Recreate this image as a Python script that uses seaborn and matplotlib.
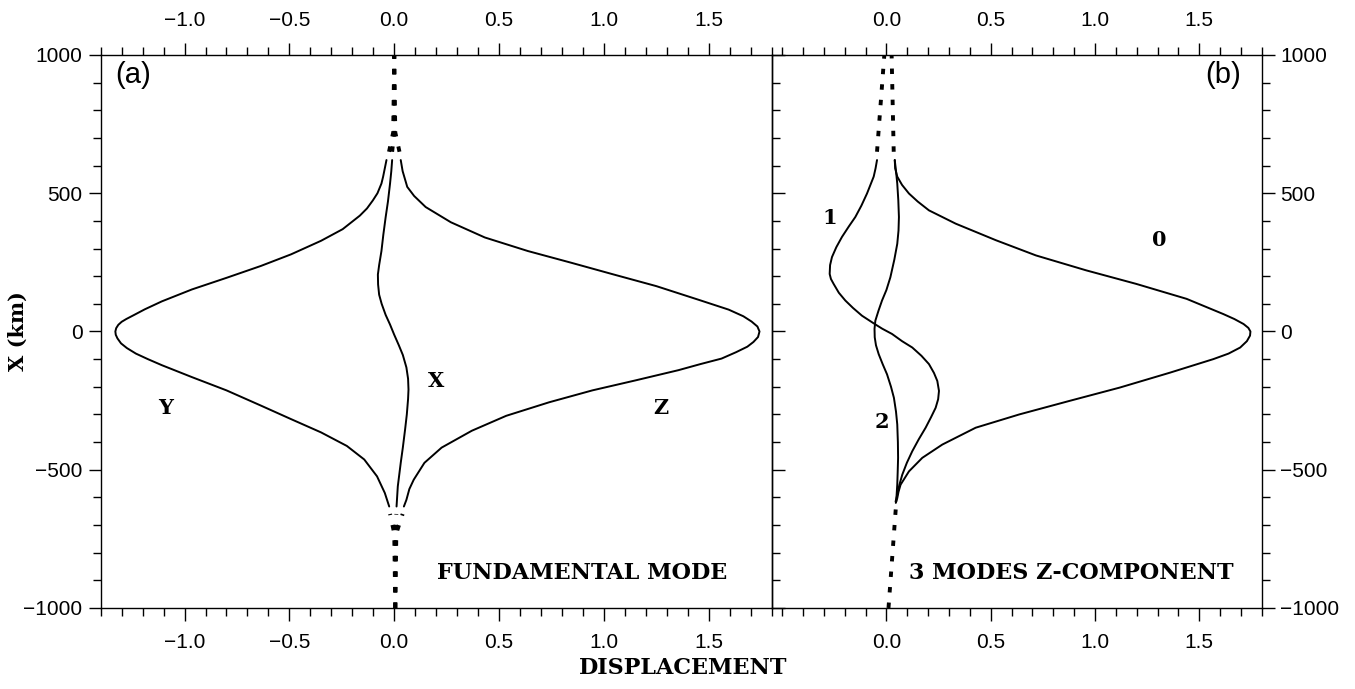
import matplotlib
matplotlib.use("Agg")
import matplotlib.pyplot as plt
import seaborn as sns
from matplotlib.ticker import MultipleLocator, FixedLocator, FuncFormatter

# --- panel (a): fundamental mode, three components ---
y_km = [620, 590, 560, 535, 500, 474, 445, 419, 370, 328, 279, 237, 194, 152, 109,
        80, 60, 45, 35, 24, 12, 0, -12, -25, -43, -60, -80, -100, -122, -165, -213,
        -268, -317, -365, -414, -463, -524, -584, -633]
y_disp = [-0.037, -0.045, -0.053, -0.061, -0.080, -0.102, -0.130, -0.164, -0.246,
          -0.349, -0.492, -0.636, -0.800, -0.965, -1.108, -1.190, -1.240, -1.278,
          -1.300, -1.316, -1.326, -1.330, -1.328, -1.320, -1.303, -1.275, -1.232,
          -1.175, -1.108, -0.965, -0.800, -0.636, -0.492, -0.349, -0.226, -0.143,
          -0.082, -0.045, -0.024]

z_km = [620, 580, 523, 490, 450, 395, 340, 291, 249, 206, 164, 115, 79, 55, 36,
        18, 0, -20, -38, -55, -75, -98, -118, -140, -177, -213, -256, -305, -359,
        -420, -475, -536, -570, -609, -633]
z_disp = [0.031, 0.040, 0.062, 0.095, 0.150, 0.270, 0.432, 0.637, 0.842, 1.047,
          1.250, 1.450, 1.595, 1.665, 1.704, 1.732, 1.742, 1.735, 1.713, 1.684,
          1.630, 1.561, 1.460, 1.355, 1.150, 0.945, 0.739, 0.534, 0.370, 0.226,
          0.144, 0.093, 0.072, 0.058, 0.046]

x_km = [620, 580, 535, 470, 413, 350, 291, 240, 206, 170, 133, 100, 60, 25, -12,
        -50, -85, -130, -171, -210, -244, -300, -353, -420, -475, -560, -633]
x_disp = [-0.010, -0.014, -0.020, -0.030, -0.041, -0.052, -0.061, -0.072, -0.078,
          -0.077, -0.072, -0.060, -0.041, -0.020, 0.000, 0.022, 0.041, 0.058, 0.066,
          0.068, 0.066, 0.060, 0.052, 0.041, 0.031, 0.017, 0.011]

# dotted continuations outside the plate, panel (a)
a_top_km = [650, 720, 1000]
a_top_y = [-0.025, -0.005, 0.0]
a_top_x = [-0.010, 0.0, 0.0]
a_top_z = [0.025, 0.005, 0.0]
a_bot_km = [-660, -730, -1000]
a_bot_y = [-0.020, 0.0, 0.005]
a_bot_x = [0.010, 0.006, 0.005]
a_bot_z = [0.040, 0.010, 0.005]

# --- panel (b): Z component of modes 0, 1, 2 ---
m0_km = [620, 590, 560, 530, 499, 470, 438, 390, 330, 275, 221, 172, 118, 63, 45,
         27, 13, 0, -15, -35, -58, -80, -100, -149, -203, -251, -300, -348, -409,
         -457, -506, -554, -580, -603, -620]
m0_disp = [0.040, 0.042, 0.052, 0.075, 0.108, 0.150, 0.204, 0.332, 0.525, 0.717,
           0.958, 1.198, 1.439, 1.615, 1.668, 1.712, 1.735, 1.745, 1.743, 1.728,
           1.696, 1.640, 1.567, 1.359, 1.118, 0.878, 0.637, 0.428, 0.268, 0.172,
           0.108, 0.068, 0.058, 0.052, 0.045]

m1_km = [620, 590, 560, 499, 455, 414, 380, 342, 305, 269, 240, 208, 190, 172, 140,
         112, 85, 57, 27, 10, -9, -35, -58, -88, -118, -150, -179, -215, -245, -276,
         -310, -348, -390, -433, -475, -518, -555, -591, -615]
m1_disp = [-0.045, -0.052, -0.061, -0.093, -0.120, -0.149, -0.180, -0.213, -0.240,
           -0.261, -0.270, -0.272, -0.266, -0.253, -0.228, -0.197, -0.160, -0.117,
           -0.056, -0.020, 0.027, 0.075, 0.124, 0.168, 0.204, 0.228, 0.244, 0.252,
           0.248, 0.236, 0.214, 0.188, 0.155, 0.124, 0.098, 0.076, 0.062, 0.052, 0.044]

m2_km = [620, 580, 535, 475, 414, 365, 317, 260, 196, 150, 112, 75, 39, 10, -21,
         -50, -82, -118, -155, -200, -240, -290, -336, -400, -457, -510, -554, -615]
m2_disp = [0.040, 0.046, 0.052, 0.057, 0.060, 0.058, 0.052, 0.038, 0.019, 0.000,
           -0.021, -0.038, -0.053, -0.057, -0.056, -0.050, -0.037, -0.018, 0.003,
           0.022, 0.036, 0.046, 0.052, 0.055, 0.056, 0.054, 0.052, 0.047]

b_top_km = [650, 1000]
b_top_m1 = [-0.045, -0.010]
b_top_m0 = [0.035, 0.025]
b_bot_km = [-640, -1000]
b_bot_m0 = [0.045, 0.010]

sns.set_theme(style="ticks")
plt.rcParams['font.family'] = ['Liberation Sans', 'DejaVu Sans']
plt.rcParams.update({"text.color": "black", "axes.labelcolor": "black",
                     "xtick.color": "black", "ytick.color": "black"})
serif = ['DejaVu Serif']

fig = plt.figure(figsize=(13.55, 6.89), dpi=100)
ax_a = fig.add_axes([0.0743, 0.1176, 0.4952, 0.8026])
ax_b = fig.add_axes([0.5695, 0.1176, 0.3618, 0.8026])
ax_b.patch.set_alpha(0)

solid = dict(color="black", lw=1.4, orient="y", estimator=None)
dots = dict(color="black", lw=2.8, orient="y", estimator=None, linestyle=(0, (1.4, 2.6)))

for disp, km in [(y_disp, y_km), (x_disp, x_km), (z_disp, z_km)]:
    sns.lineplot(x=disp, y=km, ax=ax_a, **solid)
for disp in [a_top_y, a_top_x, a_top_z]:
    sns.lineplot(x=disp, y=a_top_km, ax=ax_a, **dots)
for disp in [a_bot_y, a_bot_x, a_bot_z]:
    sns.lineplot(x=disp, y=a_bot_km, ax=ax_a, **dots)

for disp, km in [(m0_disp, m0_km), (m1_disp, m1_km), (m2_disp, m2_km)]:
    sns.lineplot(x=disp, y=km, ax=ax_b, **solid)
for disp in [b_top_m1, b_top_m0]:
    sns.lineplot(x=disp, y=b_top_km, ax=ax_b, **dots)
sns.lineplot(x=b_bot_m0, y=b_bot_km, ax=ax_b, **dots)

xfmt = FuncFormatter(lambda v, p: f"{v:.1f}".replace("-", "\u2212"))
yfmt = FuncFormatter(lambda v, p: f"{int(round(v))}".replace("-", "\u2212"))

ax_a.set_xlim(-1.4, 1.8)
ax_b.set_xlim(-0.55, 1.8)
ax_a.xaxis.set_major_locator(FixedLocator([-1.0, -0.5, 0.0, 0.5, 1.0, 1.5]))
ax_b.xaxis.set_major_locator(FixedLocator([0.0, 0.5, 1.0, 1.5]))
for ax in (ax_a, ax_b):
    ax.set_ylim(-1000, 1000)
    ax.set_xlabel("")
    ax.set_ylabel("")
    ax.xaxis.set_minor_locator(MultipleLocator(0.1))
    ax.yaxis.set_major_locator(MultipleLocator(500))
    ax.yaxis.set_minor_locator(MultipleLocator(100))
    ax.xaxis.set_major_formatter(xfmt)
    ax.yaxis.set_major_formatter(yfmt)
    for s in ax.spines.values():
        s.set_visible(True)
        s.set_linewidth(1.0)
        s.set_color("black")
    ax.tick_params(axis="x", which="both", top=True, bottom=True, labeltop=True,
                   labelbottom=True, direction="out", width=1.0, labelsize=15, pad=9)
    ax.tick_params(axis="y", which="both", direction="out", width=1.0,
                   labelsize=15, pad=4)
    ax.tick_params(which="major", length=9)
    ax.tick_params(which="minor", length=5.5)

ax_a.tick_params(axis="y", which="both", left=True, right=True, labelleft=True, labelright=False)
ax_b.tick_params(axis="y", which="both", left=False, right=True, labelleft=False, labelright=True)

# panel annotations
ax_a.text(-1.33, 928, "(a)", fontsize=21, va="center", ha="left")
ax_b.text(1.70, 928, "(b)", fontsize=21, va="center", ha="right")
lab = dict(family=serif, fontweight="bold", fontsize=15, ha="center", va="center")
ax_a.text(-1.09, -277, "Y", **lab)
ax_a.text(0.20, -180, "X", **lab)
ax_a.text(1.27, -277, "Z", **lab)
ax_b.text(-0.273, 410, "1", **lab)
ax_b.text(1.31, 330, "0", **lab)
ax_b.text(-0.024, -328, "2", **lab)
ax_a.text(1.59, -872, "FUNDAMENTAL MODE", family=serif, fontweight="bold",
          fontsize=16, ha="right", va="center")
ax_b.text(1.665, -872, "3 MODES Z-COMPONENT", family=serif, fontweight="bold",
          fontsize=16, ha="right", va="center")

fig.text(683 / 1355, 1 - 668 / 689, "DISPLACEMENT", family=serif, fontweight="bold",
         fontsize=16, ha="center", va="center")
fig.text(18 / 1355, 1 - 331 / 689, "X (km)", family=serif, fontweight="bold",
         fontsize=15, ha="center", va="center", rotation=90)

fig.savefig("out.png", dpi=100)
